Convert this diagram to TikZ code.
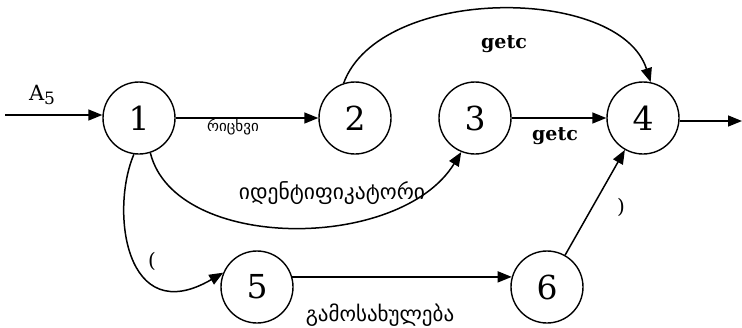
\documentclass[tikz,border=0pt]{standalone}
\usepackage{fontspec}
\setmainfont{DejaVu Serif}
\newfontfamily\geo{DejaVu Sans}
\usetikzlibrary{arrows.meta}
\begin{document}
\begin{tikzpicture}[x=1pt,y=-1pt,
  st/.style={circle,draw,line width=1.4pt,minimum size=72pt,inner sep=0pt,font=\fontsize{33}{35}\selectfont},
  arr/.style={line width=1.5pt,-{Triangle[length=14pt,width=11pt]}},
  lbl/.style={inner sep=0pt},
  geolbl/.style={inner sep=0pt,font=\geo\fontsize{21.5}{23}\selectfont},
  ]
\useasboundingbox (0,0) rectangle (742,327);
\node[st] (n1) at (139,118) {1};
\node[st] (n2) at (355,118) {2};
\node[st] (n3) at (475,118) {3};
\node[st] (n4) at (643,118) {4};
\node[st] (n5) at (257,287) {5};
\node[st] (n6) at (547,287) {6};
\coordinate (in) at (5,115);
\coordinate (out) at (742,121);
\draw[arr] (in) -- (in -| n1.west);
\draw[arr] (n4.east |- out) -- (out);
\draw[arr] (n1) -- (n2);
\draw[arr] (n3) -- (n4);
\draw[arr] (n2.108) .. controls (380,-15) and (620,-15) .. (n4.78);
\draw[arr] (n1.-72) .. controls (175,252) and (400,252) .. (n3.-112);
\draw[arr] (n1.-98) .. controls (110,210) and (125,330) .. (n5.157);
\draw[arr] (n5.16) -- (n6.164);
\draw[arr] (n6) -- (n4);
\node[lbl,font=\fontsize{21}{23}\selectfont] (a5) at (42,95) {A\raisebox{-0.15em}{\fontsize{17}{19}\selectfont 5}};
\node[geolbl,font=\geo\fontsize{15}{16}\selectfont] (l12) at (233,127) {რიცხვი};
\node[lbl,font=\bfseries\fontsize{19}{21}\selectfont] (l24) at (504,44) {getc};
\node[lbl,font=\bfseries\fontsize{19}{21}\selectfont] (l34) at (555,136) {getc};
\node[geolbl] (l13) at (332,193) {იდენტიფიკატორი};
\node[lbl,font=\fontsize{20}{22}\selectfont] (l15) at (152,261) {(};
\node[geolbl,font=\geo\fontsize{21}{23}\selectfont] (l56) at (380,315) {გამოსახულება};
\node[lbl,font=\fontsize{20}{22}\selectfont] (l64) at (621,207) {)};
\end{tikzpicture}
\end{document}
